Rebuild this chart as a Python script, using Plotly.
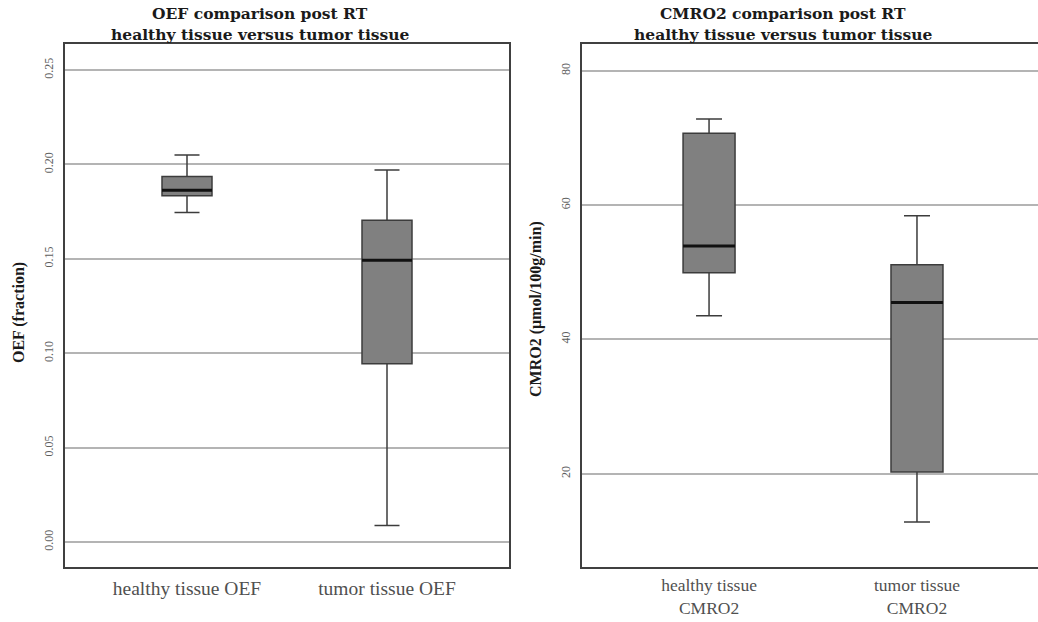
import plotly.graph_objects as go

W, H = 1038, 622

# ---- data ----
oef_categories = ["healthy tissue OEF", "tumor tissue OEF"]
oef_lowerfence = [0.1746, 0.0088]
oef_q1 = [0.1834, 0.0945]
oef_median = [0.1864, 0.1493]
oef_q3 = [0.1936, 0.1704]
oef_upperfence = [0.205, 0.197]
oef_ticks = [0.00, 0.05, 0.10, 0.15, 0.20, 0.25]
oef_ticklabels = ["0.00", "0.05", "0.10", "0.15", "0.20", "0.25"]

cmro2_categories = ["healthy tissue<br>CMRO2", "tumor tissue<br>CMRO2"]
cmro2_lowerfence = [43.5, 12.8]
cmro2_q1 = [49.9, 20.25]
cmro2_median = [53.9, 45.5]
cmro2_q3 = [70.7, 51.1]
cmro2_upperfence = [72.8, 58.4]
cmro2_ticks = [20, 40, 60, 80]
cmro2_ticklabels = ["20", "40", "60", "80"]

# ---- style ----
SERIF = "Liberation Serif, Times New Roman, serif"
WIDE_SERIF = "DejaVu Serif, serif"
BOX_FILL = "#808080"
BOX_LINE = "#3c3c3c"
GRID = "#b4b4b4"
FRAME = "#404040"

def px_x(p):
    return p / W

def px_y(p):
    return 1 - p / H

fig = go.Figure()

def add_boxes(cats, lf, q1, med, q3, uf, xa, ya):
    fig.add_trace(go.Box(
        x=cats, lowerfence=lf, q1=q1, median=med, q3=q3, upperfence=uf,
        width=0.25, whiskerwidth=0.5, fillcolor=BOX_FILL,
        line=dict(color=BOX_LINE, width=1.5),
        boxpoints=False, showlegend=False, xaxis=xa, yaxis=ya,
        hoverinfo="skip",
    ))
    # thick median line overlay
    fig.add_trace(go.Box(
        x=cats, lowerfence=med, q1=med, median=med, q3=med, upperfence=med,
        width=0.25, whiskerwidth=0, fillcolor="rgba(0,0,0,0)",
        line=dict(color="#111111", width=3),
        boxpoints=False, showlegend=False, xaxis=xa, yaxis=ya,
        hoverinfo="skip",
    ))

add_boxes(oef_categories, oef_lowerfence, oef_q1, oef_median, oef_q3,
          oef_upperfence, "x", "y")
add_boxes(cmro2_categories, cmro2_lowerfence, cmro2_q1, cmro2_median,
          cmro2_q3, cmro2_upperfence, "x2", "y2")

ydom = [px_y(567), px_y(44)]

xaxis_common = dict(
    type="category", showgrid=False, zeroline=False, showline=True,
    linecolor=FRAME, linewidth=2, ticks="", automargin=False,
)
yaxis_common = dict(
    showgrid=True, gridcolor=GRID, gridwidth=2, zeroline=False,
    showline=True, linecolor=FRAME, linewidth=2, ticks="",
    ticklabelstandoff=5, automargin=False,
    tickangle=-90, tickfont=dict(family=SERIF, size=12, color="#606060"),
)

fig.update_layout(
    width=W, height=H, autosize=False,
    margin=dict(l=0, r=0, t=0, b=0, pad=0, autoexpand=False),
    paper_bgcolor="white", plot_bgcolor="white",
    boxmode="overlay",
    xaxis=dict(**xaxis_common, domain=[px_x(65), px_x(509)], mirror=True,
               range=[-0.61, 1.61], anchor="y", ticklabelstandoff=3,
               tickfont=dict(family=SERIF, size=19.5, color="#505050"),
               categoryorder="array", categoryarray=oef_categories),
    yaxis=dict(**yaxis_common, domain=ydom, mirror=True,
               range=[-0.0132, 0.2638], tickvals=oef_ticks,
               ticktext=oef_ticklabels, anchor="x"),
    xaxis2=dict(**xaxis_common, domain=[px_x(582), 1.0], mirror=True,
                range=[-0.611, 1.582], anchor="y2", ticklabelstandoff=1,
                tickfont=dict(family=SERIF, size=17.5, color="#505050"),
                categoryorder="array", categoryarray=cmro2_categories),
    yaxis2=dict(**yaxis_common, domain=ydom, mirror=False,
                range=[6.11, 83.97], tickvals=cmro2_ticks,
                ticktext=cmro2_ticklabels, anchor="x2"),
)

title_font = dict(family=WIDE_SERIF, size=15.5, color="#1a1a1a")
annots = [
    ("<b>OEF comparison post RT</b>", 260, 14),
    ("<b>healthy tissue versus tumor tissue</b>", 260, 34),
    ("<b>CMRO2 comparison post RT</b>", 783, 14),
    ("<b>healthy tissue versus tumor tissue</b>", 783, 34),
]
for txt, x, y in annots:
    fig.add_annotation(text=txt, x=px_x(x), y=px_y(y), xref="paper",
                       yref="paper", showarrow=False, font=title_font,
                       xanchor="center", yanchor="middle")

ytitle_font = dict(family=SERIF, size=16, color="#1a1a1a")
fig.add_annotation(text="<b>OEF (fraction)</b>", x=px_x(19), y=px_y(313),
                   xref="paper", yref="paper", showarrow=False,
                   textangle=-90, font=ytitle_font,
                   xanchor="center", yanchor="middle")
fig.add_annotation(text="<b>CMRO2 (μmol/100g/min)</b>", x=px_x(536),
                   y=px_y(309), xref="paper", yref="paper", showarrow=False,
                   textangle=-90, font=ytitle_font,
                   xanchor="center", yanchor="middle")

fig.write_html("out.html")
